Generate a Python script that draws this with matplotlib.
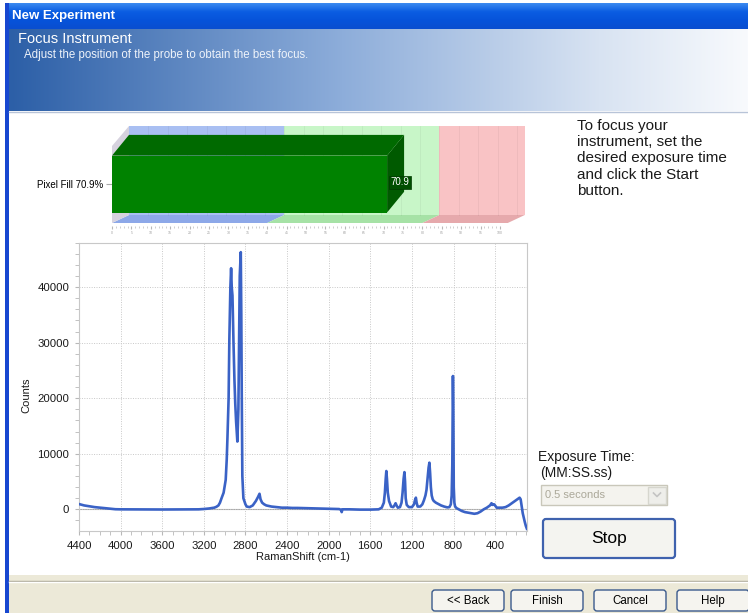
import numpy as np
import matplotlib
matplotlib.use("Agg")
import matplotlib.pyplot as plt
from matplotlib.patches import Rectangle, Polygon, FancyBboxPatch
from matplotlib.colors import LinearSegmentedColormap
from matplotlib.ticker import MultipleLocator

plt.rcParams['font.family'] = ['Liberation Sans', 'DejaVu Sans']

# ---------------- data ----------------
raman_shift = [4400, 4350, 4300, 4250, 4200, 4150, 4100, 4050, 4000, 3800, 3600, 3400,
               3250, 3200, 3150, 3100, 3080, 3060, 3045, 3030, 3010, 2990, 2980, 2973,
               2962, 2955, 2945, 2938, 2932, 2925, 2915, 2906, 2898, 2890, 2878, 2868,
               2862, 2855, 2845, 2840, 2836, 2830, 2820, 2800, 2788, 2760, 2730, 2700,
               2680, 2665, 2655, 2640, 2620, 2600, 2550, 2500, 2450, 2400, 2350, 2300,
               2200, 2100, 2000, 1900, 1880, 1875, 1868, 1800, 1700, 1600, 1520, 1490,
               1470, 1460, 1452, 1446, 1440, 1432, 1420, 1400, 1380, 1365, 1357, 1348,
               1335, 1315, 1300, 1290, 1280, 1272, 1266, 1260, 1250, 1230, 1200, 1180,
               1170, 1162, 1155, 1145, 1120, 1100, 1085, 1070, 1060, 1050, 1040, 1032,
               1025, 1018, 1010, 1000, 990, 970, 950, 920, 890, 860, 840, 826, 818, 812,
               808, 806, 802, 798, 792, 785, 770, 750, 720, 690, 660, 630, 600, 570, 540,
               510, 480, 450, 435, 425, 410, 398, 385, 360, 330, 300, 270, 240, 210, 180,
               165, 155, 145, 135, 125, 115, 105, 95]
counts = [950, 700, 550, 400, 300, 180, 80, 20, 0, -20, -30, -20,
          0, 60, 150, 300, 450, 700, 1200, 2000, 3000, 5300, 9000, 13000,
          20000, 30500, 40000, 43400, 40000, 38500, 30000, 23300, 19000, 15800, 12200, 18000,
          30000, 42000, 46300, 35000, 21500, 6000, 2000, 900, 500, 400, 700, 1500,
          2200, 2800, 1800, 1200, 900, 700, 500, 400, 300, 300, 250, 250,
          200, 150, 100, 50, -100, -500, 0, 0, -50, -50, 0, 300,
          1200, 3000, 5500, 6900, 5500, 3000, 1500, 500, 400, 800, 1100, 700,
          300, 400, 1200, 3000, 5500, 6700, 5000, 2000, 800, 400, 400, 900,
          1700, 2100, 1200, 500, 500, 900, 1600, 2500, 3500, 5500, 7500, 8400,
          6500, 4000, 2500, 1800, 1500, 1200, 1000, 700, 500, 350, 400, 900, 2500, 8000,
          18000, 24000, 18000, 4000, 1200, 500, 200, 0, -300, -500, -600, -700, -800, -700, -400,
          0, 300, 700, 1100, 800, 900, 600, 300, 300, 300, 400, 700, 1100, 1500, 1900,
          2100, 1800, 500, -700, -1500, -2300, -3000, -3500]
x_ticks = [4400, 4000, 3600, 3200, 2800, 2400, 2000, 1600, 1200, 800, 400]
y_ticks = [0, 10000, 20000, 30000, 40000]

pixel_fill = 70.9
zone_edges = [0, 40, 80, 100]
gauge_ticks = list(range(0, 101, 5))

help_text = "To focus your\ninstrument, set the\ndesired exposure time\nand click the Start\nbutton."
buttons = ["<< Back", "Finish", "Cancel", "Help"]

# ---------------- figure / UI layer (pixel coords) ----------------
W, H = 748, 613
fig = plt.figure(figsize=(W / 100, H / 100), dpi=100)
fig.patch.set_facecolor('white')
ui = fig.add_axes([0, 0, 1, 1], zorder=0)
ui.axis('off')

# title bar
tb_cmap = LinearSegmentedColormap.from_list('tb', ['#3C8AF0', '#0B5DE2', '#0653DA', '#0A4ED0'])
ui.imshow(np.linspace(0, 1, 64)[:, None], extent=(5, W, 29, 3), aspect='auto',
          cmap=tb_cmap, interpolation='bilinear')
# header gradient
hdr_cmap = LinearSegmentedColormap.from_list(
    'hdr', [(0, '#2C5FA7'), (0.45, '#8DADDA'), (0.8, '#D8E3F2'), (1, '#F8FAFD')])
ui.imshow(np.linspace(0, 1, 256)[None, :], extent=(9, W, 111, 29), aspect='auto',
          cmap=hdr_cmap, interpolation='bilinear')
ui.set_xlim(0, W)
ui.set_ylim(H, 0)

ui.add_patch(Rectangle((5, 3), 4, H - 3, fc='#1747D0', ec='none'))
ui.plot([9, W], [111.5, 111.5], color='#B8C4D8', lw=1)

ui.text(12, 16, "New Experiment", color='white', fontsize=9.5, fontweight='bold',
        va='center', ha='left')
ui.text(18, 39, "Focus Instrument", color='white', fontsize=10.5, va='center', ha='left')
ui.text(24, 55, "Adjust the position of the probe to obtain the best focus.",
        color='#EEF3FA', fontsize=8.3, va='center', ha='left')

# bottom panel
ui.add_patch(Rectangle((9, 575), W - 9, H - 575, fc='#ECE9D8', ec='none'))
ui.plot([9, W], [580.5, 580.5], color='#ACA899', lw=1)
ui.plot([9, W], [581.5, 581.5], color='white', lw=1)

bx = [432, 511, 594, 677]
for lbl, x0 in zip(buttons, bx):
    ui.add_patch(FancyBboxPatch((x0, 590), 72, 21, boxstyle='round,pad=0,rounding_size=3',
                                fc='#F5F4EF', ec='#3A5A8C', lw=1))
    ui.text(x0 + 36, 601, lbl, fontsize=8.3, ha='center', va='center', color='black')

# right-hand help text and controls
ui.text(577, 119, help_text, fontsize=11, color='#1A1A1A', va='top', ha='left',
        linespacing=1.2)
ui.text(538, 457, "Exposure Time:", fontsize=10, va='center', ha='left', color='#1A1A1A')
ui.text(540, 473, "(MM:SS.ss)", fontsize=10, va='center', ha='left', color='#1A1A1A')
ui.add_patch(Rectangle((541.5, 485), 126, 20, fc='#F4F3EE', ec='#C9C7BA', lw=1))
ui.add_patch(Rectangle((648, 486.5), 18, 17, fc='#EEEEEA', ec='#D6D6CE', lw=1))
ui.plot([653.5, 657, 660.5], [493, 496.5, 493], color='#C4C4C4', lw=1.2)
ui.text(545, 495, "0.5 seconds", fontsize=8, color='#ABA899', va='center', ha='left')
ui.add_patch(FancyBboxPatch((543, 519), 132, 39, boxstyle='round,pad=0,rounding_size=3',
                            fc='#F4F4F0', ec='#3F62AE', lw=1.6))
ui.text(609, 539, "Stop", fontsize=12.5, ha='center', va='center', color='black')

# ---------------- gauge (3D bar) ----------------
gx0, gx1 = 112, 500
gy_top, gy_bot = 120, 226
gax = fig.add_axes([gx0 / W, 1 - gy_bot / H, (gx1 - gx0) / W, (gy_bot - gy_top) / H], zorder=2)
gax.set_xlim(0, 100)
gax.set_ylim(0, gy_bot - gy_top)
gax.patch.set_alpha(0)
for s in gax.spines.values():
    s.set_visible(False)

upx = (gx1 - gx0) / 100.0
dxw, dyw = 17 / upx, 8        # depth of floor / walls
dxb, dyb = 17 / upx, 20.7     # depth of bar
ff = 3                        # floor front
wall_top = 100
bar_y0, bar_y1 = 13.5, 70.4
bar_c = (bar_y0 + bar_y1) / 2
wall_cols = ['#A9BFF2', '#C8F6C8', '#F9C3C5']
floor_cols = ['#8DA8E8', '#A6E2A6', '#E6A9AC']
for i in range(len(zone_edges) - 1):
    a = zone_edges[i]
    b = zone_edges[i + 1] + (2 if i == len(zone_edges) - 2 else 0)
    gax.add_patch(Rectangle((a + dxw, ff + dyw), b - a, wall_top - ff - dyw,
                            fc=wall_cols[i], ec='none', clip_on=False, zorder=1))
    gax.add_patch(Polygon([(a, ff), (b, ff), (b + dxw, ff + dyw), (a + dxw, ff + dyw)],
                          closed=True, fc=floor_cols[i], ec='none', clip_on=False, zorder=1))
for v in gauge_ticks[1:]:
    gax.plot([v + dxw, v + dxw], [ff + dyw, wall_top], color='black', alpha=0.05, lw=0.6,
             clip_on=False, zorder=1.2)
gax.add_patch(Polygon([(0, ff), (dxw, ff + dyw), (dxw, wall_top), (0, wall_top - 20)],
                      closed=True, fc='#D6D2DE', ec='none', clip_on=False, zorder=1.1))

gax.add_patch(Polygon([(0, bar_y1), (pixel_fill, bar_y1), (pixel_fill + dxb, bar_y1 + dyb),
                       (dxb, bar_y1 + dyb)], closed=True, fc='#006A00', ec='none',
                      clip_on=False, zorder=2))
gax.add_patch(Polygon([(pixel_fill, bar_y0), (pixel_fill + dxb, bar_y0 + dyb),
                       (pixel_fill + dxb, bar_y1 + dyb), (pixel_fill, bar_y1)],
                      closed=True, fc='#005A00', ec='none', clip_on=False, zorder=2))
gax.barh([bar_c], [pixel_fill], height=bar_y1 - bar_y0, left=0, color='#008200', zorder=3)
gax.text(pixel_fill + 3.3, bar_c + 2, f"{pixel_fill:.1f}", fontsize=7, color='white',
         ha='center', va='center', zorder=4,
         bbox=dict(boxstyle='square,pad=0.15', fc='#004E00', ec='#003A00', lw=0.5))

gax.set_yticks([bar_c])
gax.set_yticklabels([f"Pixel Fill {pixel_fill:.1f}%"], fontsize=7)
gax.tick_params(axis='y', length=4, color='#A8A8A8', pad=2)
gax.set_xticks(gauge_ticks)
gax.set_xticklabels([str(t) for t in gauge_ticks], fontsize=2.5, color='#A0A0A0')
gax.xaxis.set_minor_locator(MultipleLocator(1))
gax.tick_params(axis='x', which='major', length=2.5, color='#B8B8B8', pad=1)
gax.tick_params(axis='x', which='minor', length=1.5, color='#C8C8C8')

# ---------------- spectrum ----------------
ax = fig.add_axes([79 / W, 1 - 531 / H, 448 / W, (531 - 242.7) / H], zorder=2)
ax.plot(raman_shift, counts, color='#3A62C6', lw=1.9, zorder=3)
ax.set_xlim(4400, 94)
ax.set_ylim(-3900, 48000)
ax.set_xticks(x_ticks)
ax.set_yticks(y_ticks)
ax.xaxis.set_minor_locator(MultipleLocator(100))
ax.yaxis.set_minor_locator(MultipleLocator(2000))
ax.grid(True, which='major', ls=(0, (1, 1.5)), color='#C8C8C8', lw=0.7)
ax.axhline(0, color='#A8A8A8', lw=0.8, zorder=1)
for s in ax.spines.values():
    s.set_color('#C8C8C8')
ax.tick_params(which='both', direction='out', color='#B8B8B8', length=3,
               labelsize=8.2, labelcolor='#1A1A1A', pad=4)
ax.set_xlabel("RamanShift (cm-1)", fontsize=8, color='#1A1A1A', labelpad=1)
ax.set_ylabel("Counts", fontsize=8, color='#1A1A1A')
ax.yaxis.set_label_coords(-0.107, 0.47)

fig.savefig("out.png", dpi=100)
